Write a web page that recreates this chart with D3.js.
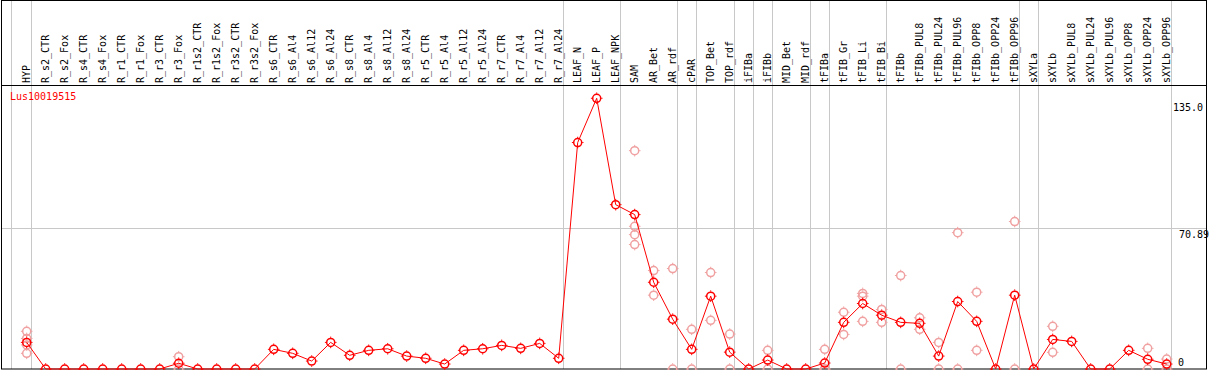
<!DOCTYPE html>
<html>
<head>
<meta charset="utf-8">
<script src="https://cdn.jsdelivr.net/npm/d3@7"></script>
<style>
  body { margin: 0; background: #fff; }
  text { font-family: "DejaVu Sans Mono", monospace; font-size: 10px; }
</style>
</head>
<body>
<script>
var geneName = "Lus10019515";

var categories = ["HYP", "R_s2_CTR", "R_s2_Fox", "R_s4_CTR", "R_s4_Fox", "R_r1_CTR", "R_r1_Fox",
  "R_r3_CTR", "R_r3_Fox", "R_r1s2_CTR", "R_r1s2_Fox", "R_r3s2_CTR", "R_r3s2_Fox",
  "R_s6_CTR", "R_s6_Al4", "R_s6_Al12", "R_s6_Al24", "R_s8_CTR", "R_s8_Al4", "R_s8_Al12", "R_s8_Al24",
  "R_r5_CTR", "R_r5_Al4", "R_r5_Al12", "R_r5_Al24", "R_r7_CTR", "R_r7_Al4", "R_r7_Al12", "R_r7_Al24",
  "LEAF_N", "LEAF_P", "LEAF_NPK", "SAM", "AR_Bet", "AR_rdf", "cPAR", "TOP_Bet", "TOP_rdf",
  "iFIBa", "iFIBb", "MID_Bet", "MID_rdf", "tFIBa", "tFIB_Gr", "tFIB_Li", "tFIB_Bi", "tFIBb",
  "tFIBb_PUL8", "tFIBb_PUL24", "tFIBb_PUL96", "tFIBb_OPP8", "tFIBb_OPP24", "tFIBb_OPP96",
  "sXYLa", "sXYLb", "sXYLb_PUL8", "sXYLb_PUL24", "sXYLb_PUL96", "sXYLb_OPP8", "sXYLb_OPP24", "sXYLb_OPP96"];

// mean expression per sample
var means = [13.4, 0, 0, 0, 0, 0, 0, 0, 2.9, 0, 0, 0, 0,
  9.9, 7.9, 4.0, 13.4, 6.9, 9.4, 10.2, 6.5,
  5.4, 2.5, 9.4, 10.2, 11.9, 10.4, 12.9, 5.4,
  114.1, 136.4, 82.8, 77.8, 43.7, 25.1, 9.9, 36.7, 8.5,
  0, 4.5, 0, 0, 3.0, 23.5, 33.0, 27.1, 23.5,
  23.0, 6.5, 34.0, 24.0, 0, 37.2,
  0, 14.9, 13.9, 0, 0, 9.4, 4.9, 2.5];

// individual replicates (only where they are visible)
var replicates = {
  "HYP": [19.0, 15.4, 12.1, 7.9],
  "R_r3_Fox": [6.2, 0],
  "SAM": [110.0, 71.9, 67.7, 62.7],
  "AR_Bet": [49.6, 37.2],
  "AR_rdf": [50.6, 0],
  "cPAR": [20.0, 0],
  "TOP_Bet": [48.6, 24.5],
  "TOP_rdf": [17.6, 0],
  "iFIBb": [9.4, 0],
  "tFIBa": [9.9, 0, 0],
  "tFIB_Gr": [28.6, 17.4],
  "tFIB_Li": [38.1, 36.7, 24.0],
  "tFIB_Bi": [30.0, 23.5],
  "tFIBb": [47.1, 0],
  "tFIBb_PUL8": [25.8, 20.0],
  "tFIBb_PUL24": [13.4, 0],
  "tFIBb_PUL96": [68.7, 0],
  "tFIBb_OPP8": [38.7, 9.4],
  "tFIBb_OPP96": [74.3, 0],
  "sXYLb": [21.5, 8.4],
  "sXYLb_OPP24": [10.4, 0],
  "sXYLb_OPP96": [5.0, 0]
};

// group separators are drawn after these samples
var separatorsAfter = ["HYP", "R_r7_Al24", "LEAF_NPK", "AR_rdf", "cPAR", "TOP_rdf", "iFIBa", "iFIBb",
  "MID_rdf", "tFIBa", "tFIB_Bi", "tFIBb_OPP96", "sXYLa", "sXYLb_OPP96"];

var yTicks = [0, 70.89, 135.0];
var yMax = 141.78;

var width = 1209, height = 370;

var svg = d3.select("body").append("svg")
    .attr("width", width)
    .attr("height", height);

var x = d3.scalePoint()
    .domain(categories)
    .range([26.7, 1166.7]);

var y = d3.scaleLinear()
    .domain([0, yMax])
    .range([369, 87.6]);

function px(v) { return Math.round(v) + 0.5; }

// vertical separators
var sepX = [x(categories[0]) - x.step() + 3].concat(separatorsAfter.map(function(c){ return x(c) + 4; }));
svg.append("g").selectAll("line")
    .data(sepX)
    .enter().append("line")
    .attr("x1", function(d){ return px(d); })
    .attr("x2", function(d){ return px(d); })
    .attr("y1", 0)
    .attr("y2", 369)
    .style("stroke", "#c8c8c8");

// middle gridline
svg.append("line")
    .attr("x1", 1).attr("x2", 1207)
    .attr("y1", px(y(yTicks[1]))).attr("y2", px(y(yTicks[1])))
    .style("stroke", "#c8c8c8");

// frame
svg.append("rect")
    .attr("x", 1.5).attr("y", 0.5)
    .attr("width", 1205).attr("height", 368.5)
    .style("fill", "none")
    .style("stroke", "#000");
svg.append("line")
    .attr("x1", 1).attr("x2", 1207)
    .attr("y1", 85.5).attr("y2", 85.5)
    .style("stroke", "#000");

// sample labels
svg.append("g").selectAll("text")
    .data(categories)
    .enter().append("text")
    .attr("transform", function(d){ return "translate(" + (x(d) + 3.5) + ",83) rotate(-90)"; })
    .text(function(d){ return d; });

// y labels
svg.append("g").selectAll("text")
    .data(yTicks)
    .enter().append("text")
    .attr("x", function(d){ return d === 0 ? 1178 : (d > 100 ? 1173 : 1179); })
    .attr("y", function(d){ return d === 0 ? y(d) - 3 : y(d) + 10; })
    .text(function(d){ return d === 0 ? "0" : (d % 1 === 0 ? d.toFixed(1) : d); });

svg.append("text")
    .attr("x", 10).attr("y", 100)
    .style("fill", "red")
    .text(geneName);

function marker(g, color) {
  g.append("circle")
      .attr("r", 4)
      .style("fill", "none")
      .style("stroke", color)
      .style("stroke-width", 1.5);
  g.append("path")
      .attr("d", "M0,-5.8V-4.5M0,4.5V5.8M-5.8,0H-4.5M4.5,0H5.8")
      .style("stroke", color)
      .style("stroke-width", 1);
}

// replicates
var reps = [];
categories.forEach(function(c){
  (replicates[c] || []).forEach(function(v){ reps.push({c: c, v: v}); });
});
svg.append("g").selectAll("g")
    .data(reps)
    .enter().append("g")
    .attr("transform", function(d){ return "translate(" + x(d.c) + "," + y(d.v) + ")"; })
    .each(function(){ marker(d3.select(this), "#f0a0a0"); });

// mean line
var line = d3.line()
    .x(function(d, i){ return x(categories[i]); })
    .y(function(d){ return y(d); });

svg.append("path")
    .datum(means)
    .attr("d", line)
    .style("fill", "none")
    .style("stroke", "red")
    .style("stroke-width", 1);

svg.append("g").selectAll("g")
    .data(means)
    .enter().append("g")
    .attr("transform", function(d, i){ return "translate(" + x(categories[i]) + "," + y(d) + ")"; })
    .each(function(){ marker(d3.select(this), "red"); });
</script>
</body>
</html>
